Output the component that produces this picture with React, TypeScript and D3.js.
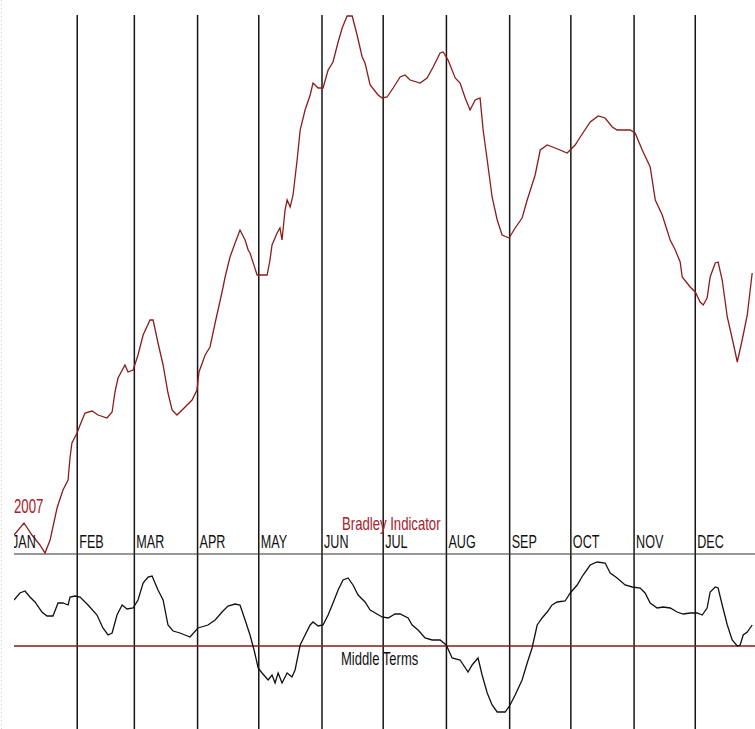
import React from "react";
import * as d3 from "d3";

// Month labels
const monthLabels = ["JAN", "FEB", "MAR", "APR", "MAY", "JUN", "JUL", "AUG", "SEP", "OCT", "NOV", "DEC"];
const year = 2007;

// Bradley Indicator (day of year, index value)
const bradleyDays = [0, 4.9, 8.8, 12.7, 15.2, 17.7, 21.1, 24.0, 26.5, 27.5, 28.4, 30.9, 32.4, 34.8, 38.3, 41.2, 45.6, 48.1, 49.5, 51.0, 54.4, 55.9, 58.4, 60.8, 63.3, 66.7, 68.2, 70.6, 73.1, 75.5, 77.5, 79.9, 83.9, 87.3, 89.7, 90.7, 93.7, 96.1, 98.6, 102.0, 103.5, 105.9, 108.4, 110.8, 113.3, 114.8, 115.7, 119.2, 124.1, 125.5, 126.5, 129.0, 130.4, 131.4, 132.9, 133.9, 135.4, 136.8, 138.8, 140.3, 142.7, 145.2, 146.6, 149.1, 151.5, 154.0, 156.4, 158.9, 160.9, 163.3, 165.8, 168.2, 170.7, 172.1, 174.6, 178.5, 180.5, 182.9, 185.9, 189.3, 191.7, 194.2, 199.1, 202.5, 205.5, 208.9, 210.4, 212.8, 216.3, 218.7, 221.2, 223.6, 226.1, 228.5, 230.0, 232.0, 234.4, 236.9, 239.3, 242.7, 245.7, 249.1, 251.6, 255.5, 258.0, 261.4, 265.3, 271.2, 275.1, 277.6, 282.5, 286.4, 289.8, 293.3, 295.7, 302.1, 304.5, 308.0, 311.9, 314.4, 317.8, 321.7, 324.2, 326.6, 327.6, 331.5, 334.0, 336.4, 337.9, 339.8, 341.3, 343.8, 345.2, 347.2, 349.7, 352.6, 354.6, 357.0, 359.5, 361.9];
const bradleyValues = [25, 37, 25, 15, 7, 20, 52, 70, 80, 103, 117, 127, 135, 147, 149, 145, 142, 148, 168, 182, 195, 188, 190, 205, 225, 240, 240, 217, 195, 167, 150, 145, 153, 160, 170, 188, 205, 213, 237, 268, 283, 303, 317, 330, 320, 310, 307, 285, 285, 300, 315, 327, 332, 320, 350, 360, 353, 365, 400, 430, 450, 465, 477, 472, 472, 490, 498, 518, 532, 544, 544, 525, 503, 497, 475, 465, 462, 463, 472, 483, 485, 480, 477, 482, 493, 507, 508, 500, 482, 477, 462, 450, 460, 462, 430, 400, 363, 340, 325, 322, 332, 342, 360, 385, 410, 415, 412, 407, 415, 423, 438, 444, 442, 433, 430, 430, 427, 410, 393, 360, 345, 320, 310, 298, 283, 273, 268, 258, 255, 262, 283, 297, 298, 280, 243, 217, 198, 220, 245, 287];

// Middle Terms (day of year, value relative to zero line)
const middleDays = [0, 2.9, 5.4, 7.8, 10.3, 13.7, 16.2, 19.1, 21.6, 24.0, 26.5, 27.5, 29.9, 32.4, 36.3, 40.7, 43.6, 46.1, 48.1, 50.5, 53.0, 55.4, 58.4, 60.8, 63.3, 65.7, 67.7, 70.6, 73.1, 75.5, 78.0, 81.4, 86.3, 90.2, 95.1, 98.6, 102.0, 104.9, 108.4, 110.8, 113.3, 115.7, 117.7, 119.7, 121.6, 124.6, 126.5, 128.0, 129.5, 131.4, 133.9, 136.3, 137.8, 140.3, 142.7, 145.2, 146.6, 149.1, 151.5, 154.0, 156.4, 158.9, 161.3, 163.8, 166.2, 168.7, 172.1, 174.6, 180.5, 183.4, 186.8, 189.3, 193.2, 195.2, 198.1, 201.5, 205.0, 208.9, 211.9, 214.8, 218.7, 222.6, 224.6, 227.5, 229.5, 232.0, 234.4, 236.9, 240.8, 243.2, 245.7, 249.1, 251.6, 254.0, 256.5, 258.9, 261.4, 263.8, 266.3, 270.2, 272.7, 276.1, 279.0, 282.5, 285.9, 289.8, 292.3, 295.7, 299.6, 303.1, 307.0, 309.4, 311.9, 315.3, 318.3, 321.7, 325.1, 328.1, 331.5, 334.9, 337.4, 339.8, 341.3, 343.8, 345.2, 347.2, 349.7, 352.1, 354.6, 356.0, 357.5, 359.5, 361.9];
const middleValues = [46, 53, 55, 49, 44, 34, 30, 30, 43, 43, 41, 49, 50, 49, 41, 31, 18, 11, 13, 31, 41, 37, 38, 46, 63, 69, 70, 56, 46, 21, 15, 13, 9, 18, 21, 26, 34, 40, 42, 41, 26, 11, -4, -22, -27, -34, -29, -37, -27, -37, -27, -31, -24, 1, 11, 21, 24, 20, 21, 31, 43, 56, 66, 68, 61, 51, 44, 36, 29, 28, 32, 32, 28, 21, 16, 8, 6, 6, 1, -12, -14, -26, -19, -12, -29, -47, -59, -66, -66, -59, -49, -34, -17, -2, 21, 28, 34, 41, 44, 45, 53, 61, 71, 81, 84, 83, 73, 68, 61, 59, 58, 53, 43, 38, 39, 38, 34, 32, 33, 33, 31, 38, 54, 59, 58, 41, 21, 6, 0, 1, 11, 14, 21];

const W = 755;
const H = 729;

export default function App() {
  const x = d3.scaleLinear().domain([0, 365]).range([14, 758.5]);
  const yTop = d3.scaleLinear().domain([0, 550]).range([560, 10]);
  const yMid = d3.scaleLinear().domain([-100, 100]).range([746, 546]);

  const monthStarts = d3.timeMonths(new Date(year, 0, 1), new Date(year + 1, 0, 1));
  const dayOf = (d: Date) => d3.timeDay.count(new Date(year, 0, 1), d);

  const bradley = bradleyDays.map((d, i) => [d, bradleyValues[i]] as [number, number]);
  const middle = middleDays.map((d, i) => [d, middleValues[i]] as [number, number]);

  const lineTop = d3.line<[number, number]>().x((d) => x(d[0])).y((d) => yTop(d[1]));
  const lineMid = d3.line<[number, number]>().x((d) => x(d[0])).y((d) => yMid(d[1]));

  const font = "'Liberation Sans', Arial, sans-serif";
  const red = "#a8202c";

  return (
    <svg
      width={W}
      height={H}
      viewBox={`0 0 ${W} ${H}`}
      style={{ position: "absolute", left: 0, top: 0, background: "#fff" }}
    >
      <defs>
        <clipPath id="plot">
          <rect x={14} y={0} width={W - 14} height={H} />
        </clipPath>
      </defs>
      <rect x={0} y={0} width={W} height={H} fill="#fff" />
      <line x1={1.5} x2={1.5} y1={0} y2={H} stroke="#ccc" strokeDasharray="1,3" strokeWidth={1} />

      {/* month grid lines */}
      {monthStarts.slice(1).map((m, i) => (
        <line
          key={"v" + i}
          x1={x(dayOf(m))}
          x2={x(dayOf(m))}
          y1={15}
          y2={H}
          stroke="#151515"
          strokeWidth={1.5}
        />
      ))}

      {/* horizontal separator and zero line */}
      <line x1={14} x2={W} y1={554} y2={554} stroke="#333" strokeWidth={1.2} />
      <line x1={14} x2={W} y1={yMid(0)} y2={yMid(0)} stroke="#8b1a1a" strokeWidth={1.6} />

      <g clipPath="url(#plot)">
        <path d={lineTop(bradley) || ""} fill="none" stroke="#8b1c1c" strokeWidth={1.3} />
        <path d={lineMid(middle) || ""} fill="none" stroke="#111" strokeWidth={1.3} />

        {monthStarts.map((m, i) => (
          <text
            key={"m" + i}
            transform={`translate(${x(dayOf(m)) + (i === 0 ? -2 : 2)},548) scale(0.7,1)`}
            fontFamily={font}
            fontSize={18}
            fill="#111"
          >
            {monthLabels[i]}
          </text>
        ))}

        <text transform="translate(14,513) scale(0.66,1)" fontFamily={font} fontSize={20} fill={red}>
          {String(year)}
        </text>
      </g>

      <text transform="translate(342,530) scale(0.73,1)" fontFamily={font} fontSize={18} fill={red}>
        Bradley Indicator
      </text>
      <text transform="translate(341,665) scale(0.725,1)" fontFamily={font} fontSize={18} fill="#111">
        Middle Terms
      </text>
    </svg>
  );
}
